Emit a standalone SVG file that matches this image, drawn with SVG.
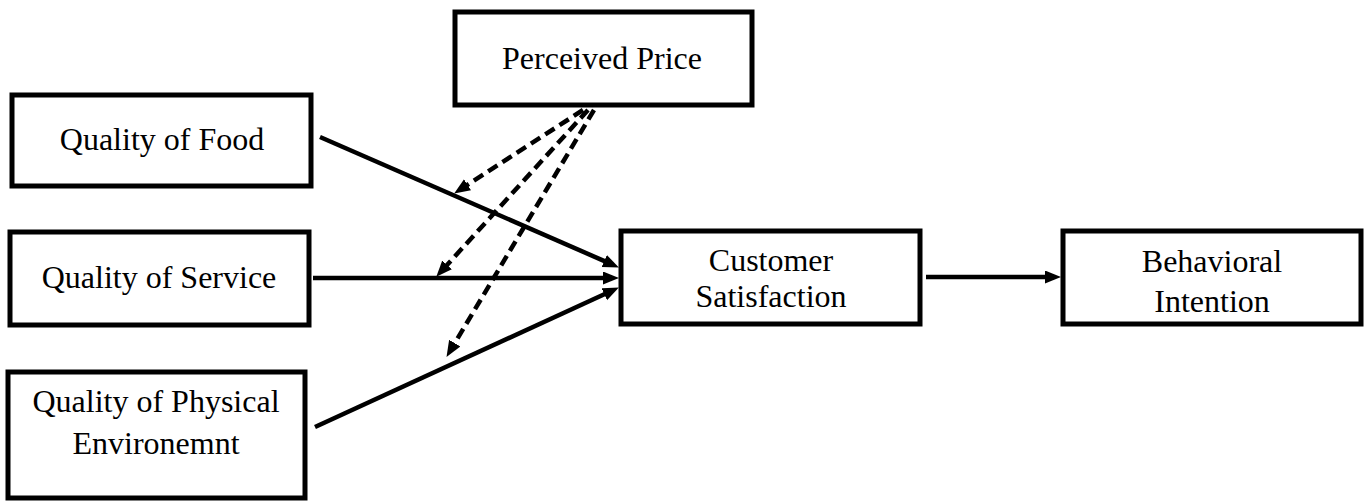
<svg xmlns="http://www.w3.org/2000/svg" width="1369" height="504" viewBox="0 0 1369 504">
<style>
.box{fill:#fff;stroke:#000;stroke-width:5}
.t{font-family:"Liberation Serif","Times New Roman",serif;font-size:32px;fill:#000;text-anchor:middle}
.c{stroke:#000;stroke-width:4.5;fill:none}
.d{stroke-dasharray:11,6}
</style>
<defs>
<marker id="ah" markerUnits="userSpaceOnUse" markerWidth="16" markerHeight="14" refX="9" refY="6.5" orient="auto" viewBox="0 0 16 14">
<path d="M0,0 L16,6.5 L0,13 z" fill="#000"/>
</marker>
</defs>
<rect width="1369" height="504" fill="#fff"/>
<g id="perceived-price"><rect class="box" x="455" y="12" width="297" height="93"/><text class="t" x="602" y="69">Perceived Price</text></g>
<g id="quality-food"><rect class="box" x="12" y="95" width="299" height="91"/><text class="t" x="162" y="150">Quality of Food</text></g>
<g id="quality-service"><rect class="box" x="10" y="232" width="299" height="93"/><text class="t" x="159" y="288">Quality of Service</text></g>
<g id="quality-physical"><rect class="box" x="8" y="372" width="297" height="126"/><text class="t" x="156" y="412">Quality of Physical</text><text class="t" x="156" y="454">Environemnt</text></g>
<g id="customer-satisfaction"><rect class="box" x="621" y="231" width="299" height="93"/><text class="t" x="771" y="271">Customer</text><text class="t" x="771" y="307">Satisfaction</text></g>
<g id="behavioral-intention"><rect class="box" x="1063" y="231" width="298" height="93"/><text class="t" x="1212" y="272">Behavioral</text><text class="t" x="1212" y="312">Intention</text></g>
<g id="connectors">
<line class="c" x1="320" y1="137" x2="612.5" y2="264.6" marker-end="url(#ah)"/>
<line class="c" x1="313" y1="278" x2="612" y2="278" marker-end="url(#ah)"/>
<line class="c" x1="315" y1="427" x2="612.5" y2="290.5" marker-end="url(#ah)"/>
<line class="c" x1="926" y1="277" x2="1054" y2="277" marker-end="url(#ah)"/>
<line class="c d" x1="583" y1="110" x2="460" y2="189.7" marker-end="url(#ah)"/>
<line class="c d" x1="588" y1="110" x2="441" y2="271.6" marker-end="url(#ah)"/>
<line class="c d" x1="594" y1="110" x2="450.1" y2="350.9" marker-end="url(#ah)"/>
</g>
</svg>
